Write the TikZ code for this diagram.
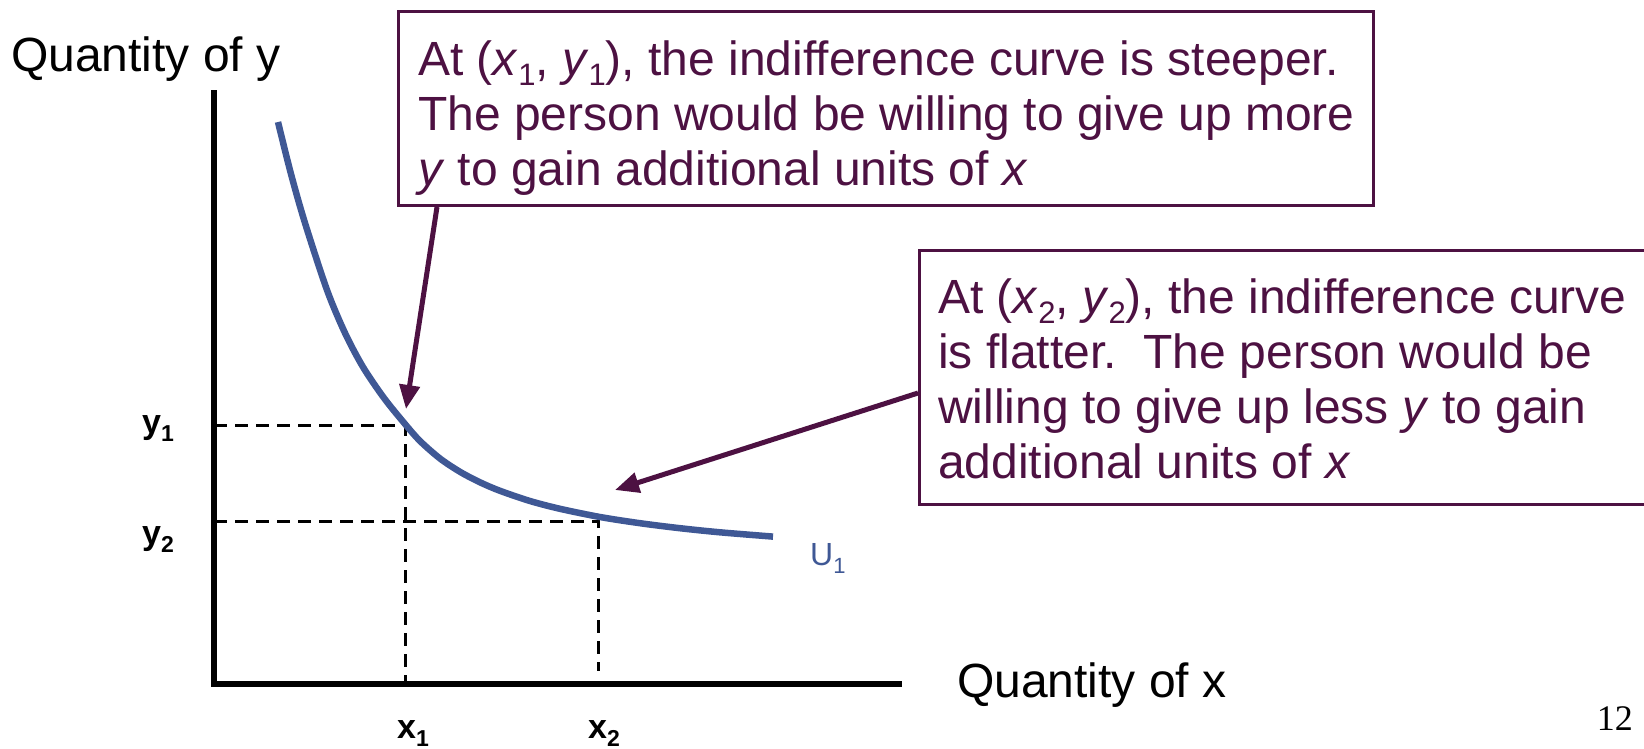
\documentclass[tikz,border=0pt]{standalone}
\usepackage{fontspec}
\setmainfont{Liberation Sans}
\newfontfamily\pagenumfont{Liberation Serif}
\usetikzlibrary{arrows.meta,calc}
\definecolor{plum}{HTML}{4D1142}
\definecolor{ublue}{HTML}{3F5895}
\newcommand\sbb[1]{\raisebox{-0.22em}{\fontsize{31}{31}\selectfont #1}}
\newcommand\sbl[1]{\raisebox{-0.25em}{\fontsize{23}{23}\selectfont #1}}
\newcommand\sbu[1]{\raisebox{-0.25em}{\fontsize{22}{22}\selectfont #1}}
\begin{document}
\begin{tikzpicture}[x=1pt,y=-1pt,
  callout/.style={draw=plum, line width=3pt, rectangle, inner sep=0pt, anchor=north west},
  calltext/.style={text=plum, font=\fontsize{48}{55}\selectfont, align=left, inner sep=0pt, anchor=base west},
  pointer/.style={draw=plum, line width=5pt, -{Triangle[length=24pt,width=20pt]}},
  axisline/.style={line width=6.5pt, black},
  guide/.style={line width=3pt, black, dash pattern=on 13pt off 8pt},
  ticklab/.style={font=\fontsize{34}{34}\selectfont\bfseries, inner sep=0pt, anchor=base west},
  axlab/.style={font=\fontsize{48}{48}\selectfont, inner sep=0pt, anchor=base west},
]
\useasboundingbox (0,0) rectangle (1644,748);
\clip (0,0) rectangle (1644,748);

% axes
\coordinate (O) at (214,684);
\coordinate (ytop) at (214,90);
\coordinate (xend) at (902,684);
\draw[axisline] (ytop) -- (214,687);
\draw[axisline] (211,684) -- (xend);

\node[axlab] (qy) at (11,71) {Quantity of y};
\node[axlab] (qx) at (957,697) {Quantity of x};

% points on curve
\coordinate (P1) at (405,425);
\coordinate (P2) at (598,521);

% guide lines
\draw[guide] (P1 -| O) -- (P1) -- (P1 |- O);
\draw[guide] (P2 -| O) -- (P2) -- (598,671);

% curve
\draw[ublue, line width=6.5pt] plot[smooth, tension=0.5] coordinates {
 (278,122) (291,174) (305,223) (327,290) (345,333) (363,367) (384,398) (405,424)
 (420,441) (440,458.5) (460,471.8) (480,482.3) (500,490.8) (530,501) (560,508.8)
 (600,517) (640,523.2) (680,528.2) (720,532.3) (773,536.6)};
\node[font=\fontsize{32}{32}\selectfont, text=ublue, inner sep=0pt, anchor=base west] (u1) at (810,565) {U\sbu{1}};

% tick labels
\node[ticklab] (ly1) at (142,433) {y\sbl{1}};
\node[ticklab] (ly2) at (142,544) {y\sbl{2}};
\node[ticklab] (lx1) at (397,738) {x\sbl{1}};
\node[ticklab] (lx2) at (588,738) {x\sbl{2}};

% callout boxes
\node[callout, minimum width=975pt, minimum height=194pt] (b1) at (397,10) {};
\node[calltext] (t1) at (418,185) {At (\textit{x}\sbb{1}, \textit{y}\sbb{1}), the indifference curve is steeper.\\
The person would be willing to give up more\\
\textit{y} to gain additional units of \textit{x}};

\node[callout, minimum width=742pt, minimum height=254pt] (b2) at (918,249) {};
\node[calltext] (t2) at (938,478) {At (\textit{x}\sbb{2}, \textit{y}\sbb{2}), the indifference curve\\
is flatter.\ \ The person would be\\
willing to give up less \textit{y} to gain\\
additional units of \textit{x}};

% pointers
\coordinate (tip1) at (406,409);
\coordinate (tip2) at (615,490);
\draw[pointer] ($(b1.south west)+(40,0)$) -- (tip1);
\draw[pointer] ($(b2.north west)+(0,144)$) -- (tip2);

% page number
\node[font=\pagenumfont\fontsize{36}{36}\selectfont, inner sep=0pt, anchor=base east] (pg) at (1633,730) {12};
\end{tikzpicture}
\end{document}
